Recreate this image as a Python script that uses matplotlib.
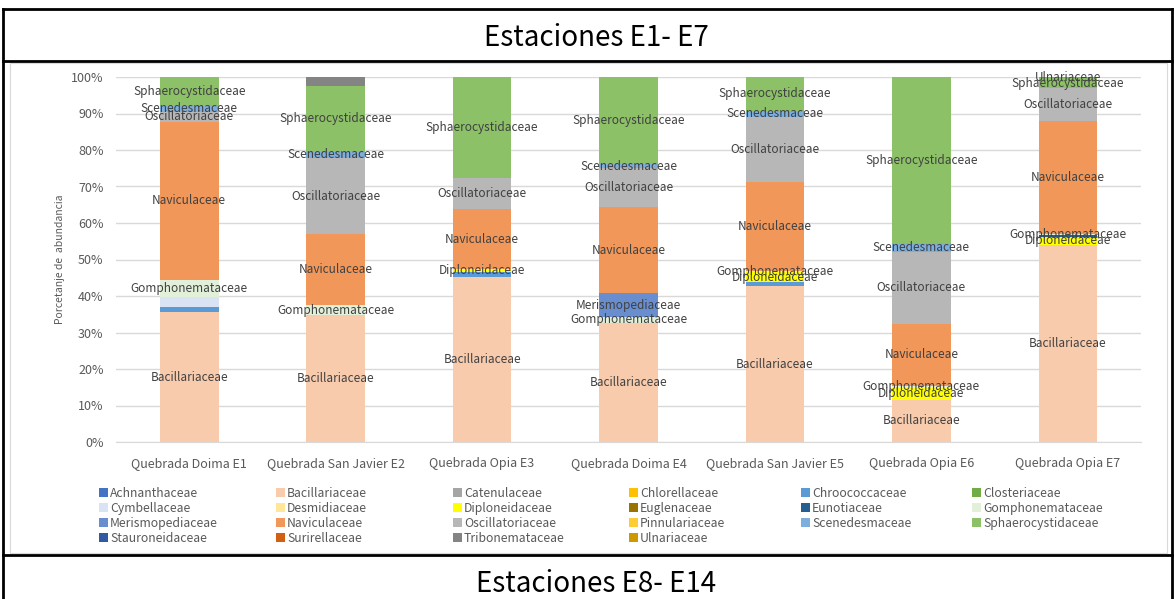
import numpy as np
import matplotlib
matplotlib.use("Agg")
import matplotlib.pyplot as plt
from matplotlib.patches import Patch
from matplotlib.lines import Line2D

plt.rcParams['font.family'] = ['Noto Sans CJK KR', 'DejaVu Sans']

# stations (x axis)
stations = ['Quebrada Doima E1', 'Quebrada San Javier E2', 'Quebrada Opia E3',
            'Quebrada Doima E4', 'Quebrada San Javier E5', 'Quebrada Opia E6',
            'Quebrada Opia E7']

# families in stacking order (bottom -> top), percent abundance per station
families = ['Achnanthaceae', 'Bacillariaceae', 'Catenulaceae', 'Chlorellaceae',
            'Chroococcaceae', 'Closteriaceae', 'Cymbellaceae', 'Desmidiaceae',
            'Diploneidaceae', 'Euglenaceae', 'Eunotiaceae', 'Gomphonemataceae',
            'Merismopediaceae', 'Naviculaceae', 'Oscillatoriaceae', 'Pinnulariaceae',
            'Scenedesmaceae', 'Sphaerocystidaceae', 'Stauroneidaceae', 'Surirellaceae',
            'Tribonemataceae', 'Ulnariaceae']

achnanthaceae = [0, 0, 0, 0, 0, 0, 0]
bacillariaceae = [35.5, 34.8, 45.3, 32.6, 42.7, 11.6, 54.0]
catenulaceae = [0, 0, 0, 0, 0, 0, 0]
chlorellaceae = [0, 0, 0, 0, 0, 0, 0]
chroococcaceae = [1.5, 0, 1.2, 0, 1.2, 0, 0]
closteriaceae = [0, 0, 0, 0, 0, 0, 0]
cymbellaceae = [2.6, 0, 0, 0, 0, 0, 0]
desmidiaceae = [0, 0, 0, 0, 0, 0, 0]
diploneidaceae = [0, 0, 0.9, 0, 2.6, 3.3, 2.3]
euglenaceae = [0, 0, 0, 0, 0, 0, 0]
eunotiaceae = [0, 0, 0, 0, 0, 0, 0.4]
gomphonemataceae = [4.8, 2.7, 0, 1.7, 0.3, 0.5, 0.4]
merismopediaceae = [0, 0, 0, 6.4, 0, 0, 0]
naviculaceae = [43.4, 19.4, 16.3, 23.8, 24.3, 17.0, 30.9]
oscillatoriaceae = [2.7, 20.8, 8.5, 10.5, 18.0, 19.6, 9.0]
pinnulariaceae = [0, 0, 0, 0, 0, 0, 0]
scenedesmaceae = [1.6, 2.0, 0, 1.1, 1.7, 2.4, 0]
sphaerocystidaceae = [7.9, 17.9, 27.8, 23.9, 9.2, 45.6, 2.7]
stauroneidaceae = [0, 0, 0, 0, 0, 0, 0]
surirellaceae = [0, 0, 0, 0, 0, 0, 0]
tribonemataceae = [0, 2.4, 0, 0, 0, 0, 0]
ulnariaceae = [0, 0, 0, 0, 0, 0, 0.3]

values = [achnanthaceae, bacillariaceae, catenulaceae, chlorellaceae, chroococcaceae,
          closteriaceae, cymbellaceae, desmidiaceae, diploneidaceae, euglenaceae,
          eunotiaceae, gomphonemataceae, merismopediaceae, naviculaceae,
          oscillatoriaceae, pinnulariaceae, scenedesmaceae, sphaerocystidaceae,
          stauroneidaceae, surirellaceae, tribonemataceae, ulnariaceae]

colors = ['#4472C4', '#F8CBAD', '#A5A5A5', '#FFC000', '#5B9BD5', '#70AD47',
          '#DAE3F3', '#FFE699', '#FFFF00', '#997300', '#255E91', '#E2F0D9',
          '#698ED0', '#F1975A', '#B7B7B7', '#FFCD33', '#7CAFDD', '#8CC168',
          '#335AA1', '#D26012', '#848484', '#CC9A00']

# series that carry series-name data labels
labelled = ['Bacillariaceae', 'Diploneidaceae', 'Gomphonemataceae', 'Merismopediaceae',
            'Naviculaceae', 'Oscillatoriaceae', 'Scenedesmaceae', 'Sphaerocystidaceae',
            'Ulnariaceae']

fig = plt.figure(figsize=(11.74, 5.99), dpi=100)

# table-like frame around the chart
W, H = 1174.0, 599.0
def fx(px):
    return px / W
def fy(py):
    return 1 - py / H

frame_lw = 2.0
for (x0, y0, x1, y1) in [(3, 9, 1172, 9), (3, 9, 3, 599), (1172, 9, 1172, 599),
                         (3, 61, 1172, 61), (3, 555, 1172, 555)]:
    fig.add_artist(Line2D([fx(x0), fx(x1)], [fy(y0), fy(y1)], color='black', lw=frame_lw))
fig.add_artist(plt.Rectangle((fx(10), fy(553)), fx(1167) - fx(10), fy(63) - fy(553),
                             fill=False, edgecolor='#D9D9D9', lw=0.8))

fig.text(fx(596), fy(38), 'Estaciones E1- E7', ha='center', va='center', fontsize=20, color='black')
fig.text(fx(596), fy(584), 'Estaciones E8- E14', ha='center', va='center', fontsize=20, color='black')

ax = fig.add_axes([fx(116), fy(442), fx(1141) - fx(116), fy(77) - fy(442)])

x = np.arange(len(stations))
bottom = np.zeros(len(stations))
for name, vals, col in zip(families, values, colors):
    v = np.array(vals, dtype=float) / 100.0
    ax.bar(x, v, width=0.4, bottom=bottom, color=col, label=name, zorder=2)
    if name in labelled:
        for i in range(len(x)):
            if v[i] > 0:
                ax.text(x[i], bottom[i] + v[i] / 2, name, ha='center', va='center',
                        fontsize=8.5, color='#404040', zorder=3)
    bottom += v

ax.set_xlim(-0.5, len(stations) - 0.5)
ax.set_ylim(0, 1)
ax.set_yticks(np.arange(0, 1.01, 0.1))
ax.set_yticklabels(['%d%%' % round(t * 100) for t in np.arange(0, 1.01, 0.1)],
                   fontsize=9, color='#595959')
ax.set_xticks(x)
ax.set_xticklabels(stations, fontsize=9, color='#595959')
ax.tick_params(axis='x', length=0, pad=11)
ax.tick_params(axis='y', length=0, pad=9)
ax.grid(axis='y', color='#D9D9D9', lw=1, zorder=0)
for s in ['top', 'right', 'left']:
    ax.spines[s].set_visible(False)
ax.spines['bottom'].set_color('#D9D9D9')
ax.set_ylabel('Porcetanje de  abundancia', fontsize=7.5, color='#595959', labelpad=4)

# legend: 6 equal-width columns, row-major order
col_x = [99, 276, 453, 629, 801, 972]
for j in range(6):
    idx = list(range(j, len(families), 6))
    handles = [Patch(facecolor=colors[k], edgecolor='none') for k in idx]
    labels = [families[k] for k in idx]
    leg = fig.legend(handles, labels, loc='upper left',
                     bbox_to_anchor=(fx(col_x[j]), fy(487)), frameon=False,
                     fontsize=8.8, handlelength=0.7, handleheight=0.7,
                     handletextpad=0.2, labelspacing=0.15, borderaxespad=0,
                     borderpad=0, labelcolor='#595959')

fig.savefig('out.png', dpi=100)
